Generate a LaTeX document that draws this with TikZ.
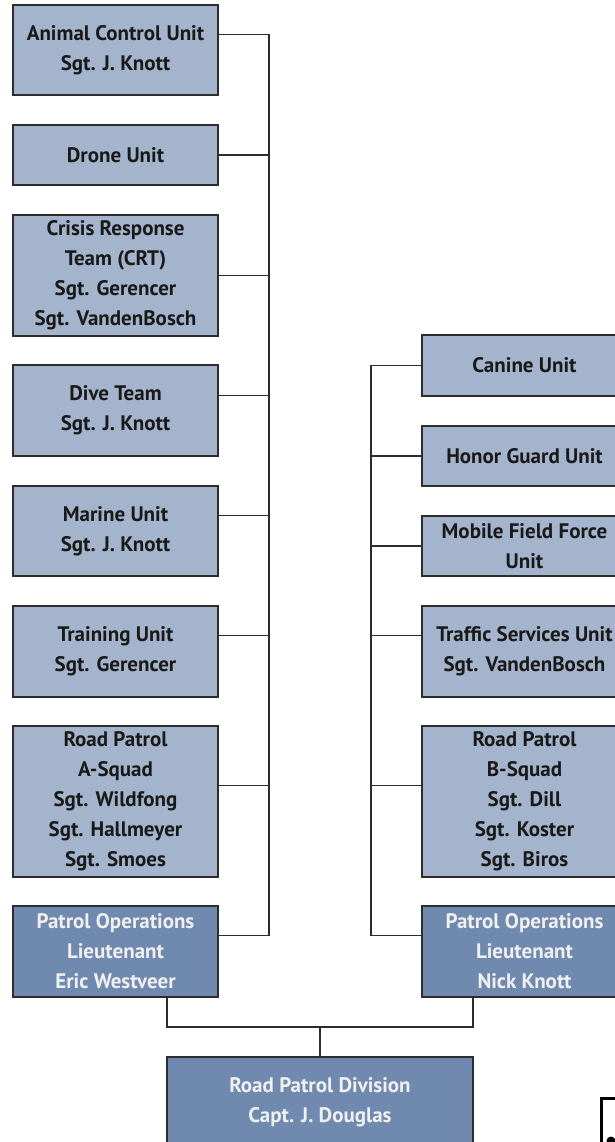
\documentclass[tikz,border=0pt]{standalone}
\usepackage{fontspec}
\setmainfont{PT Sans}
\definecolor{lightbox}{RGB}{163,180,204}
\definecolor{darkbox}{RGB}{112,138,175}
\definecolor{edge}{RGB}{45,45,45}
\begin{document}
\begin{tikzpicture}[x=1pt,y=1pt,
  unitbox/.style={draw=edge,line width=1.4pt,fill=lightbox,minimum width=205pt,
    align=center,inner sep=0pt,text=black!90,font=\fontsize{21}{30}\selectfont\bfseries},
  leadbox/.style={unitbox,fill=darkbox,text=white!94!black},
  link/.style={draw=edge,line width=1.3pt}]
\useasboundingbox (0,0) rectangle (615,-1142);
\clip (0,0) rectangle (615,-1142);
% left column
\node[unitbox,minimum height=90pt] (animal) at (115.5,-50) {Animal Control Unit\\Sgt. J. Knott};
\node[unitbox,minimum height=60pt] (drone) at (115.5,-155) {Drone Unit};
\node[unitbox,minimum height=121pt] (crt) at (115.5,-275.5) {Crisis Response\\Team (CRT)\\Sgt. Gerencer\\Sgt. VandenBosch};
\node[unitbox,minimum height=91pt] (dive) at (115.5,-410.5) {Dive Team\\Sgt. J. Knott};
\node[unitbox,minimum height=90pt] (marine) at (115.5,-531) {Marine Unit\\Sgt. J. Knott};
\node[unitbox,minimum height=91pt] (training) at (115.5,-651.5) {Training Unit\\Sgt. Gerencer};
\node[unitbox,minimum height=151pt] (roada) at (115.5,-801.5) {Road Patrol\\A-Squad\\Sgt. Wildfong\\Sgt. Hallmeyer\\Sgt. Smoes};
\node[leadbox,minimum height=91pt] (patroll) at (115.5,-951.5) {Patrol Operations\\Lieutenant\\Eric Westveer};
% right column
\node[unitbox,minimum height=61pt] (canine) at (524.5,-365.5) {Canine Unit};
\node[unitbox,minimum height=60pt] (honor) at (524.5,-456) {Honor Guard Unit};
\node[unitbox,minimum height=60pt] (mobile) at (524.5,-546) {Mobile Field Force\\Unit};
\node[unitbox,minimum height=91pt] (traffic) at (524.5,-651.5) {Traffic Services Unit\\Sgt. VandenBosch};
\node[unitbox,minimum height=151pt] (roadb) at (524.5,-801.5) {Road Patrol\\B-Squad\\Sgt. Dill\\Sgt. Koster\\Sgt. Biros};
\node[leadbox,minimum height=91pt] (patrolr) at (524.5,-951.5) {Patrol Operations\\Lieutenant\\Nick Knott};
% division
\node[leadbox,minimum width=306pt,minimum height=90pt] (division) at (320,-1102) {Road Patrol Division\\Capt. J. Douglas};
% buses
\coordinate (lbus) at (269,0);
\coordinate (rbus) at (371,0);
% left connectors
\coordinate (c1) at ([yshift=-30pt]animal.north east);
\coordinate (c4) at ([yshift=-31pt]dive.north east);
\coordinate (c5) at ([yshift=-30pt]marine.north east);
\coordinate (c6) at ([yshift=-30pt]training.north east);
\coordinate (c7) at ([yshift=-60pt]roada.north east);
\coordinate (c8) at ([yshift=-30pt]patroll.north east);
\draw[link] (c1) -- (c1 -| lbus) -- (c8 -| lbus) -- (c8);
\draw[link] (drone.east) -- (drone.east -| lbus);
\draw[link] (crt.east) -- (crt.east -| lbus);
\draw[link] (c4) -- (c4 -| lbus);
\draw[link] (c5) -- (c5 -| lbus);
\draw[link] (c6) -- (c6 -| lbus);
\draw[link] (c7) -- (c7 -| lbus);
% right connectors
\coordinate (r4) at ([yshift=-30pt]traffic.north west);
\coordinate (r5) at ([yshift=-60pt]roadb.north west);
\coordinate (r6) at ([yshift=-30pt]patrolr.north west);
\draw[link] (canine.west) -- (canine.west -| rbus) -- (r6 -| rbus) -- (r6);
\draw[link] (honor.west) -- (honor.west -| rbus);
\draw[link] (mobile.west) -- (mobile.west -| rbus);
\draw[link] (r4) -- (r4 -| rbus);
\draw[link] (r5) -- (r5 -| rbus);
% lieutenants to division
\coordinate (bl) at (167,-1027);
\coordinate (br) at (473,-1027);
\draw[link] (patroll.south -| bl) -- (bl) -- (br) -- (patrolr.south -| br);
\draw[link] (division.north) -- (division.north |- bl);
% clipped element in the lower right corner
\draw[line width=3pt] (601,-1160) -- (601,-1098) -- (640,-1098);
\fill (611,-1141) circle (4.5);
\end{tikzpicture}
\end{document}
